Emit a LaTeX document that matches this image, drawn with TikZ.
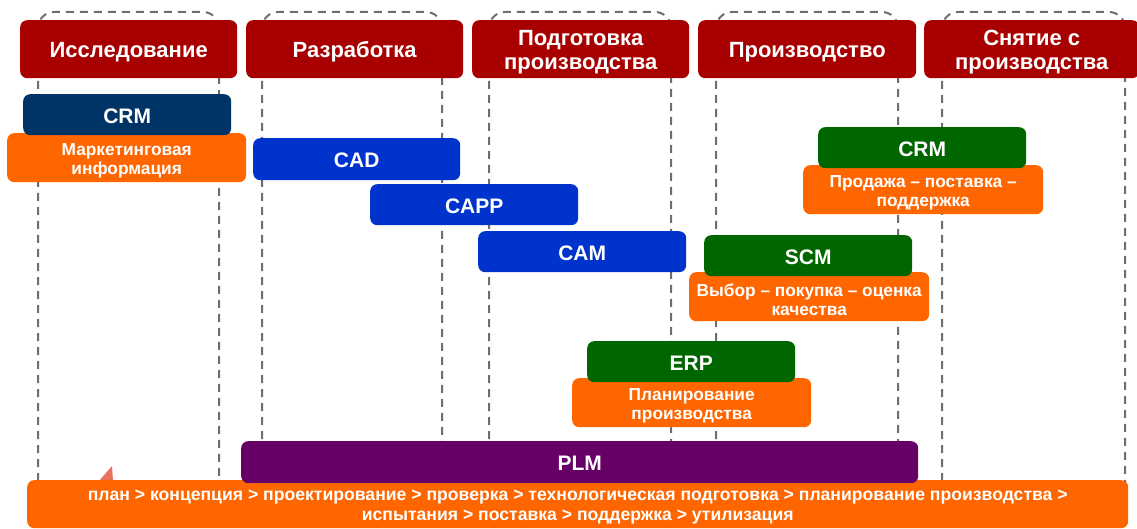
\documentclass[tikz,border=0pt]{standalone}
\usepackage{fontspec}
\setmainfont{Liberation Sans}
\definecolor{hdrred}{HTML}{A80000}
\definecolor{navy}{HTML}{003366}
\definecolor{org}{HTML}{FF6600}
\definecolor{blu}{HTML}{0033CC}
\definecolor{grn}{HTML}{006600}
\definecolor{plmc}{HTML}{660066}
\definecolor{dashgray}{HTML}{6E6E6E}
\definecolor{salmon}{HTML}{E8705C}
\begin{document}
\begin{tikzpicture}[x=1pt,y=-1pt,
  box/.style={rounded corners=7pt, inner sep=0pt, text=white, align=center, anchor=north west, draw=none},
  hdrbox/.style={box, fill=hdrred, minimum width=217pt, minimum height=58pt},
  hdrtext/.style={text=white, align=center, inner sep=0pt, font=\fontsize{22}{24}\selectfont\bfseries},
  sysbox/.style={box, minimum width=208pt, minimum height=41pt},
  systext/.style={text=white, inner sep=0pt, font=\fontsize{21}{24}\selectfont\bfseries},
  orgbox/.style={box, fill=org, minimum width=239pt, minimum height=49pt},
  orgtext/.style={text=white, align=center, inner sep=0pt, font=\fontsize{17.3}{18.5}\selectfont\bfseries},
  colline/.style={draw=dashgray, line width=2pt, dash pattern=on 8pt off 6pt, rounded corners=16pt}
]
\useasboundingbox (0,0) rectangle (1137,529);
% dashed phase columns
\draw[colline] (38,495) -- (38,12) -- (219,12) -- (219,495);
\draw[colline] (262,495) -- (262,12) -- (442,12) -- (442,495);
\draw[colline] (489,495) -- (489,12) -- (671,12) -- (671,495);
\draw[colline] (716,495) -- (716,12) -- (898,12) -- (898,495);
\draw[colline] (942,495) -- (942,12) -- (1125,12) -- (1125,495);
% headers
\node[hdrbox] (h1) at (20,20) {};
\node[hdrtext] at ([yshift=-3pt]h1.center) {Исследование};
\node[hdrbox] (h2) at (246,20) {};
\node[hdrtext] at ([yshift=-3pt]h2.center) {Разработка};
\node[hdrbox] (h3) at (472,20) {};
\node[hdrtext] at ([yshift=-3pt]h3.center) {Подготовка\\производства};
\node[hdrbox, minimum width=218pt] (h4) at (698,20) {};
\node[hdrtext] at ([yshift=-3pt]h4.center) {Производство};
\node[hdrbox, minimum width=215pt] (h5) at (924,20) {};
\node[hdrtext] at ([yshift=-3pt]h5.center) {Снятие с\\производства};
% research
\node[orgbox] (mark) at (7,133) {};
\node[orgtext] at ([yshift=-3pt]mark.center) {Маркетинговая\\информация};
\node[sysbox, fill=navy] (crm1) at (23,94) {};
\node[systext] at ([yshift=-1.5pt]crm1.center) {CRM};
% design / prep
\node[sysbox, fill=blu, minimum width=207pt, minimum height=42pt] (cad) at (253,138) {};
\node[systext] at ([yshift=-1.5pt]cad.center) {CAD};
\node[sysbox, fill=blu] (capp) at (370,184) {};
\node[systext] at ([yshift=-1.5pt]capp.center) {CAPP};
\node[sysbox, fill=blu] (cam) at (478,231) {};
\node[systext] at ([yshift=-1.5pt]cam.center) {CAM};
% production
\node[orgbox, minimum width=240pt] (prod) at (803,165) {};
\node[orgtext] at ([yshift=-3pt]prod.center) {Продажа – поставка –\\поддержка};
\node[sysbox, fill=grn] (crm2) at (818,127) {};
\node[systext] at ([yshift=-1.5pt]crm2.center) {CRM};
\node[orgbox, minimum width=240pt] (vyb) at (689,272) {};
\node[orgtext] at ([yshift=-3pt]vyb.center) {Выбор – покупка – оценка\\качества};
\node[sysbox, fill=grn] (scm) at (704,235) {};
\node[systext] at ([yshift=-1.5pt]scm.center) {SCM};
\node[orgbox] (plan) at (572,378) {};
\node[orgtext] at ([yshift=-3pt]plan.center) {Планирование\\производства};
\node[sysbox, fill=grn] (erp) at (587,341) {};
\node[systext] at ([yshift=-1.5pt]erp.center) {ERP};
% bottom
\fill[salmon] (99,481) -- (112,466) -- (113,481) -- cycle;
\node[orgbox, minimum width=1101pt, minimum height=48pt] (life) at (27,480) {};
\node[orgtext, font=\fontsize{17.6}{19.5}\selectfont\bfseries] at ([yshift=-3pt]life.center) {план > концепция > проектирование > проверка > технологическая подготовка > планирование производства >\\испытания > поставка > поддержка > утилизация};
\node[sysbox, fill=plmc, minimum width=677pt, minimum height=42pt] (plm) at (241,441) {};
\node[systext] at ([yshift=-1.5pt]plm.center) {PLM};
\end{tikzpicture}
\end{document}
